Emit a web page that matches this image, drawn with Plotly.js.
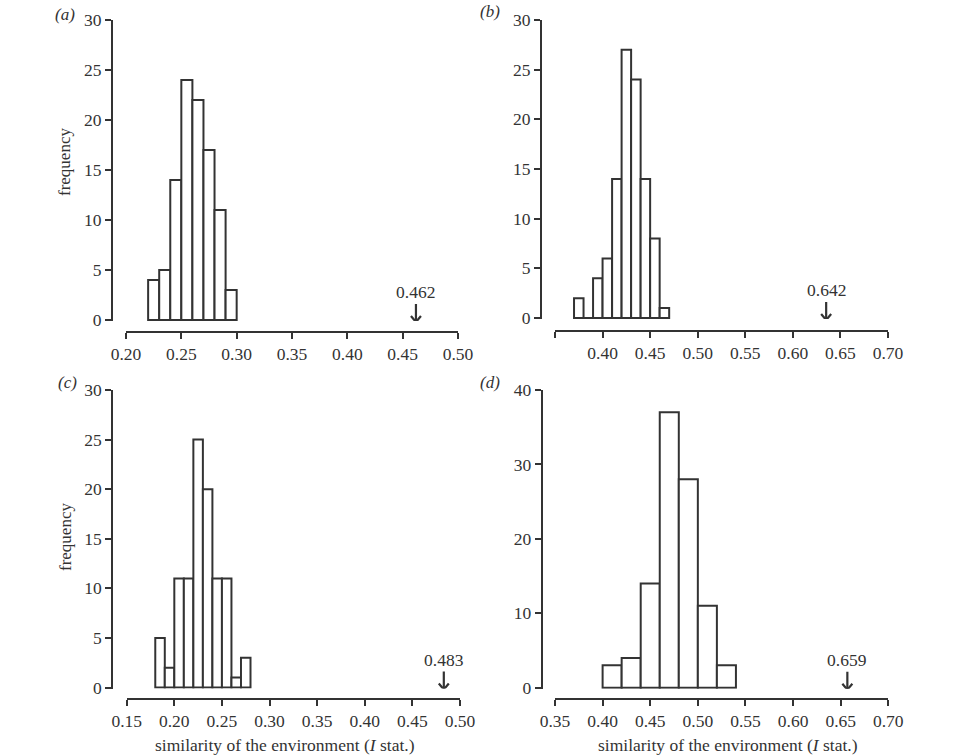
<!DOCTYPE html>
<html>
<head>
<meta charset="utf-8">
<script src="https://cdn.plot.ly/plotly-3.0.1.min.js"></script>
<style>html,body{margin:0;padding:0;background:#fff;}#chart{width:960px;height:755px;}</style>
</head>
<body>
<div id="chart"></div>
<script>
// ---- data ----
// panel (a)
const binStartA = [0.22, 0.23, 0.24, 0.25, 0.26, 0.27, 0.28, 0.29];
const countsA   = [4, 5, 14, 24, 22, 17, 11, 3];
// panel (b)
const binStartB = [0.37, 0.38, 0.39, 0.40, 0.41, 0.42, 0.43, 0.44, 0.45, 0.46];
const countsB   = [2, 0, 4, 6, 14, 27, 24, 14, 8, 1];
// panel (c)
const binStartC = [0.18, 0.19, 0.20, 0.21, 0.22, 0.23, 0.24, 0.25, 0.26, 0.27];
const countsC   = [5, 2, 11, 11, 25, 20, 11, 11, 1, 3];
// panel (d)
const binStartD = [0.40, 0.42, 0.44, 0.46, 0.48, 0.50, 0.52];
const countsD   = [3, 4, 14, 37, 28, 11, 3];

const binWidths = [0.01, 0.01, 0.01, 0.02];
const observedX = [0.462, 0.635, 0.483, 0.657];
const observedLabels = ["0.462", "0.642", "0.483", "0.659"];
const panelLabels = ["(a)", "(b)", "(c)", "(d)"];

const xTicksA = [0.20, 0.25, 0.30, 0.35, 0.40, 0.45, 0.50];
const xTicksB = [0.35, 0.40, 0.45, 0.50, 0.55, 0.60, 0.65, 0.70];
const xTickTextB = ["", "0.40", "0.45", "0.50", "0.55", "0.60", "0.65", "0.70"];
const xTicksC = [0.15, 0.20, 0.25, 0.30, 0.35, 0.40, 0.45, 0.50];
const xTicksD = [0.35, 0.40, 0.45, 0.50, 0.55, 0.60, 0.65, 0.70];
const yTicks30 = [0, 5, 10, 15, 20, 25, 30];
const yTicks40 = [0, 10, 20, 30, 40];

const yTitle = "frequency";
const xTitle = "similarity of the environment (<i>I</i> stat.)";

// ---- layout geometry (pixels) ----
const W = 960, H = 755;
const px = v => v / W;
const py = v => 1 - v / H;

const INK = "#333";
const SERIF = "Liberation Serif";

const panels = [
  {starts: binStartA, counts: countsA, xr: [0.20, 0.50], yr: 30, xt: xTicksA, xtt: null, yt: yTicks30,
   xdom: [126, 458], ytop: 20, ybot: 320, xaxisY: 332, yaxisX: 112},
  {starts: binStartB, counts: countsB, xr: [0.35, 0.70], yr: 30, xt: xTicksB, xtt: xTickTextB, yt: yTicks30,
   xdom: [555, 888], ytop: 20, ybot: 318, xaxisY: 331, yaxisX: 541},
  {starts: binStartC, counts: countsC, xr: [0.15, 0.50], yr: 30, xt: xTicksC, xtt: null, yt: yTicks30,
   xdom: [126.7, 460], ytop: 390, ybot: 687.5, xaxisY: 699, yaxisX: 112.3},
  {starts: binStartD, counts: countsD, xr: [0.35, 0.70], yr: 40, xt: xTicksD, xtt: null, yt: yTicks40,
   xdom: [555, 888.3], ytop: 390, ybot: 687.7, xaxisY: 699, yaxisX: 541.7}
];

const data = [];
const layout = {
  width: W, height: H,
  margin: {l: 0, r: 0, t: 0, b: 0},
  paper_bgcolor: "#fff", plot_bgcolor: "#fff",
  showlegend: false,
  font: {family: SERIF, color: INK, size: 17},
  annotations: []
};

panels.forEach((p, i) => {
  const n = i === 0 ? "" : String(i + 1);
  const bw = binWidths[i];
  data.push({
    type: "bar",
    x: p.starts.map(s => s + bw / 2),
    y: p.counts,
    width: p.starts.map(() => bw),
    xaxis: "x" + n, yaxis: "y" + n,
    marker: {color: "#fff", line: {color: INK, width: 2}},
    hoverinfo: "x+y"
  });
  const pxPerY = (p.ybot - p.ytop) / p.yr;
  const pxPerX = (p.xdom[1] - p.xdom[0]) / (p.xr[1] - p.xr[0]);
  const pad = 1 / pxPerY;

  // arrow marking the observed value (geometry in pixels converted to data units)
  const ox = observedX[i];
  const tipY = -2 / pxPerY, topY = 16 / pxPerY, headY = tipY + 6 / pxPerY, hw = 5 / pxPerX;
  data.push({
    type: "scatter", mode: "lines",
    x: [ox, ox, null, ox - hw, ox, ox + hw],
    y: [topY, tipY, null, headY, tipY, headY],
    xaxis: "x" + n, yaxis: "y" + n,
    line: {color: INK, width: 2.2},
    cliponaxis: false, hoverinfo: "skip"
  });

  layout["xaxis" + n] = {
    domain: [px(p.xdom[0]), px(p.xdom[1])],
    range: p.xr,
    anchor: "free",
    position: py(p.xaxisY),
    showline: true, linecolor: INK, linewidth: 2,
    ticks: "outside", ticklen: 6, tickwidth: 2, tickcolor: INK,
    tickmode: "array", tickvals: p.xt,
    ticktext: p.xtt ? p.xtt : p.xt.map(v => v.toFixed(2)),
    tickfont: {family: SERIF, size: 17.5, color: INK},
    showgrid: false, zeroline: false, fixedrange: true
  };
  layout["yaxis" + n] = {
    domain: [py(p.ybot + 1), py(p.ytop)],
    range: [-pad, p.yr],
    anchor: "free",
    position: px(p.yaxisX),
    showline: true, linecolor: INK, linewidth: 2,
    ticks: "outside", ticklen: 6, tickwidth: 2, tickcolor: INK,
    tickmode: "array", tickvals: p.yt,
    tickfont: {family: SERIF, size: 17.5, color: INK},
    showgrid: false, zeroline: false, fixedrange: true
  };
  layout.annotations.push({
    xref: "x" + n, yref: "y" + n, x: observedX[i], y: 0,
    text: observedLabels[i], showarrow: false,
    yanchor: "middle", yshift: 28,
    font: {family: SERIF, size: 17.5, color: INK}
  });
});

// panel letters
const letterPos = [[65, 15], [490, 12], [67, 383], [490, 383]];
panelLabels.forEach((t, i) => {
  layout.annotations.push({
    xref: "paper", yref: "paper", x: px(letterPos[i][0]), y: py(letterPos[i][1]),
    text: "<i>" + t + "</i>", showarrow: false, xanchor: "center", yanchor: "middle",
    font: {family: SERIF, size: 17, color: INK}
  });
});
// y titles
[[65, 162], [65, 537]].forEach(pos => {
  layout.annotations.push({
    xref: "paper", yref: "paper", x: px(pos[0]), y: py(pos[1]),
    text: yTitle, textangle: -90, showarrow: false, xanchor: "center", yanchor: "middle",
    font: {family: SERIF, size: 17, color: INK}
  });
});
// x titles
[[285, 745], [728, 745]].forEach(pos => {
  layout.annotations.push({
    xref: "paper", yref: "paper", x: px(pos[0]), y: py(pos[1]),
    text: xTitle, showarrow: false, xanchor: "center", yanchor: "middle",
    font: {family: SERIF, size: 17.5, color: INK}
  });
});

Plotly.newPlot("chart", data, layout, {displayModeBar: false, staticPlot: true});
</script>
</body>
</html>
